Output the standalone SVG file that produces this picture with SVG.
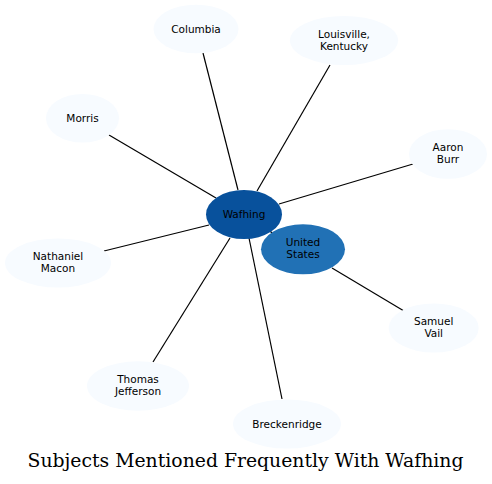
<svg xmlns="http://www.w3.org/2000/svg" width="492" height="484" viewBox="0 0 492 484">
<style>
.n{fill:#f7fbff;stroke:none}
.t{font-family:"DejaVu Sans",sans-serif;font-size:10.5px;fill:#000;text-anchor:middle}
.e{stroke:#000;stroke-width:1.2;fill:none}
.title{font-family:"DejaVu Serif",serif;font-size:18.5px;fill:#000;text-anchor:middle}
</style>
<rect width="492" height="484" fill="#fff"/>
<g id="edges">
<line class="e" x1="203" y1="53" x2="238" y2="190"/>
<line class="e" x1="330" y1="65" x2="257" y2="191"/>
<line class="e" x1="109" y1="135" x2="216" y2="198"/>
<line class="e" x1="104" y1="251" x2="209" y2="225"/>
<line class="e" x1="413" y1="164" x2="279" y2="204"/>
<line class="e" x1="153" y1="362" x2="230" y2="238"/>
<line class="e" x1="282" y1="399" x2="249" y2="238"/>
<line class="e" x1="332" y1="268" x2="404" y2="311"/>
<line class="e" x1="270" y1="231" x2="274" y2="235"/>
</g>
<g id="wafhing"><ellipse cx="244" cy="214.5" rx="38" ry="24.5" fill="#08519c"/><text class="t" x="244" y="218">Wafhing</text></g>
<g id="united-states"><ellipse cx="303" cy="249.3" rx="42" ry="25" fill="#2171b5"/><text class="t" x="303" y="246">United</text><text class="t" x="303" y="258">States</text></g>
<g id="columbia"><ellipse class="n" cx="196" cy="29" rx="42.5" ry="24.3"/><text class="t" x="196" y="32.5">Columbia</text></g>
<g id="louisville"><ellipse class="n" cx="344" cy="40.5" rx="54" ry="24.5"/><text class="t" x="344" y="37.5">Louisville,</text><text class="t" x="344" y="49.5">Kentucky</text></g>
<g id="morris"><ellipse class="n" cx="82.5" cy="118.3" rx="36.5" ry="24.3"/><text class="t" x="82.5" y="122">Morris</text></g>
<g id="nathaniel-macon"><ellipse class="n" cx="58" cy="263" rx="53" ry="24.5"/><text class="t" x="58" y="260">Nathaniel</text><text class="t" x="58" y="272">Macon</text></g>
<g id="aaron-burr"><ellipse class="n" cx="448" cy="154" rx="39" ry="24.8"/><text class="t" x="448" y="151">Aaron</text><text class="t" x="448" y="163">Burr</text></g>
<g id="samuel-vail"><ellipse class="n" cx="433.7" cy="328" rx="45" ry="24.5"/><text class="t" x="433.7" y="325">Samuel</text><text class="t" x="433.7" y="337">Vail</text></g>
<g id="thomas-jefferson"><ellipse class="n" cx="138" cy="386" rx="51" ry="24.7"/><text class="t" x="138" y="383">Thomas</text><text class="t" x="138" y="395">Jefferson</text></g>
<g id="breckenridge"><ellipse class="n" cx="287" cy="424" rx="54" ry="24.5"/><text class="t" x="287" y="427.5">Breckenridge</text></g>
<text class="title" x="245.5" y="467" textLength="436" lengthAdjust="spacingAndGlyphs">Subjects Mentioned Frequently With Wafhing</text>
</svg>
